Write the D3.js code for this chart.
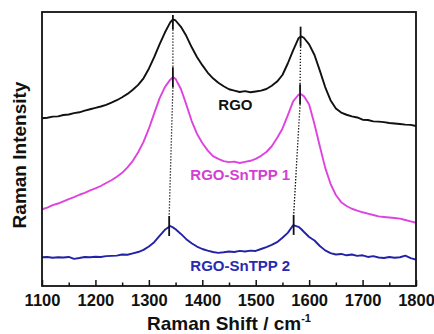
<!DOCTYPE html>
<html>
<head>
<meta charset="utf-8">
<script src="https://cdn.jsdelivr.net/npm/d3@7"></script>
<style>
  html, body { margin: 0; padding: 0; background: #fff; }
  svg { display: block; font-family: "Liberation Sans", Arial, sans-serif; font-weight: bold; }
</style>
</head>
<body>
<svg id="chart" width="434" height="334"></svg>
<script>
// -----------------------------------------------------------------------------

var wavenumbers = [
  1100, 1110, 1120, 1130, 1140, 1150, 1160, 1170, 1180, 1190,
  1200, 1210, 1220, 1230, 1240, 1250, 1260, 1270, 1280, 1290,
  1300, 1310, 1320, 1330, 1340, 1345, 1350, 1360, 1370, 1380,
  1390, 1400, 1410, 1420, 1430, 1440, 1450, 1460, 1470, 1480,
  1490, 1500, 1510, 1520, 1530, 1540, 1550, 1560, 1570, 1580,
  1585, 1590, 1600, 1610, 1620, 1630, 1640, 1650, 1660, 1670,
  1680, 1690, 1700, 1710, 1720, 1730, 1740, 1750, 1760, 1770,
  1780, 1790, 1800
];

var rgoIntensity = [
  61.2, 61.4, 61.8, 61.9, 62.4, 62.6, 63.1, 63.4, 64.0, 64.5,
  65.0, 65.5, 66.1, 66.9, 67.8, 68.9, 70.1, 71.6, 73.4, 75.8,
  79.3, 83.5, 88.2, 92.5, 96.2, 97.3, 96.9, 94.6, 91.3, 87.2,
  83.6, 80.6, 77.9, 75.8, 74.2, 72.9, 71.8, 71.3, 70.8, 71.1,
  70.7, 71.0, 71.3, 71.9, 73.1, 74.6, 77.0, 81.2, 86.0, 90.4,
  91.1, 90.6, 88.2, 84.3, 78.6, 72.6, 67.8, 64.8, 63.3, 62.5,
  61.9, 61.5, 60.7, 60.6, 60.1, 60.0, 59.8, 59.5, 59.3, 59.1,
  58.9, 58.8, 58.4
];

var rgoSnTpp1Intensity = [
  28.0, 28.6, 29.5, 30.1, 30.9, 31.7, 32.4, 33.3, 34.0, 34.9,
  35.6, 36.5, 37.6, 38.6, 39.9, 41.3, 43.3, 45.7, 48.8, 52.6,
  57.4, 63.0, 68.5, 72.6, 75.3, 76.2, 75.6, 71.9, 66.3, 60.3,
  55.6, 52.2, 49.5, 47.4, 46.4, 45.6, 45.2, 45.4, 44.9, 45.3,
  45.7, 46.4, 47.5, 48.9, 51.0, 54.0, 57.4, 62.3, 67.4, 69.8,
  70.0, 69.3, 66.2, 59.0, 51.0, 43.2, 37.3, 33.2, 30.6, 29.2,
  28.2, 27.5, 26.9, 26.4, 25.9, 25.4, 25.2, 25.0, 24.8, 24.6,
  24.1, 23.6, 23.1
];

var rgoSnTpp2Intensity = [
  10.5, 10.6, 10.3, 10.5, 10.4, 10.6, 9.9, 10.2, 10.6, 10.5,
  10.7, 10.6, 10.9, 11.0, 11.1, 11.5, 11.4, 11.9, 12.4, 13.2,
  14.4, 16.0, 18.3, 20.5, 21.9, 21.4, 20.7, 19.0, 17.1, 15.6,
  14.4, 13.5, 12.9, 12.4, 12.1, 12.3, 12.6, 12.4, 12.8, 12.6,
  12.9, 12.8, 13.5, 14.2, 15.0, 16.0, 17.6, 19.4, 22.2, 21.6,
  20.8, 19.8, 17.9, 16.6, 14.6, 13.0, 12.0, 11.5, 11.7, 11.2,
  11.5, 11.0, 11.2, 10.6, 10.9, 10.4, 10.2, 10.6, 10.3, 10.5,
  11.1, 10.2, 9.6
];

var seriesNames = ['RGO', 'RGO-SnTPP 1', 'RGO-SnTPP 2'];
var seriesColors = ['#111111', '#df43df', '#2222a6'];
var labelColors = ['#111111', '#d23fd2', '#2a2ab0'];

// D band and G band peak positions / heights, one per series
var peakDWavenumber = [1345, 1345, 1338];
var peakDIntensity = [97.3, 76.2, 21.9];
var peakGWavenumber = [1584, 1583, 1571];
var peakGIntensity = [91.0, 70.0, 22.3];

// label anchor (wavenumber, intensity) per series
var labelWavenumber = [1462, 1471, 1471];
var labelIntensity = [64.2, 38.7, 5.4];

var xTicks = [1100, 1200, 1300, 1400, 1500, 1600, 1700, 1800];
var xMinorTicks = [1150, 1250, 1350, 1450, 1550, 1650, 1750];

// -----------------------------------------------------------------------------

var margin = { top: 12, right: 18, bottom: 48, left: 42 };
var width = 434 - margin.left - margin.right;
var height = 334 - margin.top - margin.bottom;
var peakTickHalf = 10;

var svg = d3.select('#chart');
var g = svg.append('g')
  .attr('transform', 'translate(' + margin.left + ',' + margin.top + ')');

var x = d3.scaleLinear().domain([1100, 1800]).range([0, width]);
var y = d3.scaleLinear().domain([0, 100]).range([height, 0]);

// - - - - - - - - - - - - - - - - - - - - - - - - - - - - - - - - - - - - - -

var seriesValues = [rgoIntensity, rgoSnTpp1Intensity, rgoSnTpp2Intensity];
var series = seriesValues.map(function (vals, i) {
  return {
    name: seriesNames[i],
    color: seriesColors[i],
    points: wavenumbers.map(function (w, j) { return [w, vals[j]]; })
  };
});

var line = d3.line()
  .x(function (d) { return x(d[0]); })
  .y(function (d) { return y(d[1]); });

g.append('g')
  .selectAll('path')
  .data(series)
  .join('path')
  .attr('d', function (d) { return line(d.points); })
  .attr('fill', 'none')
  .attr('stroke', function (d) { return d.color; })
  .attr('stroke-width', 1.9)
  .attr('stroke-linejoin', 'round');

// - - - - - - - - - - - - - - - - - - - - - - - - - - - - - - - - - - - - - -

function peakMarks(wns, ints) {
  return wns.map(function (w, i) {
    var cy = y(ints[i]);
    return {
      x: x(w),
      top: Math.max(cy - peakTickHalf, 3),
      bottom: cy + peakTickHalf
    };
  });
}

var bands = [
  peakMarks(peakDWavenumber, peakDIntensity),
  peakMarks(peakGWavenumber, peakGIntensity)
];

var links = [];
bands.forEach(function (marks) {
  for (var i = 0; i < marks.length - 1; i++) {
    links.push({ a: marks[i], b: marks[i + 1] });
  }
});

g.append('g')
  .selectAll('line')
  .data(links)
  .join('line')
  .attr('x1', function (d) { return d.a.x; })
  .attr('y1', function (d) { return d.a.bottom; })
  .attr('x2', function (d) { return d.b.x; })
  .attr('y2', function (d) { return d.b.top; })
  .attr('stroke', '#111')
  .attr('stroke-width', 1.3)
  .attr('stroke-dasharray', '1.4,1.6');

g.append('g')
  .selectAll('line')
  .data(bands[0].concat(bands[1]))
  .join('line')
  .attr('x1', function (d) { return d.x; })
  .attr('x2', function (d) { return d.x; })
  .attr('y1', function (d) { return d.top; })
  .attr('y2', function (d) { return d.bottom; })
  .attr('stroke', '#111')
  .attr('stroke-width', 1.8);

// - - - - - - - - - - - - - - - - - - - - - - - - - - - - - - - - - - - - - -

g.append('g')
  .selectAll('text')
  .data(seriesNames)
  .join('text')
  .attr('x', function (d, i) { return x(labelWavenumber[i]); })
  .attr('y', function (d, i) { return y(labelIntensity[i]); })
  .attr('text-anchor', 'middle')
  .attr('font-size', 15)
  .attr('fill', function (d, i) { return labelColors[i]; })
  .text(function (d) { return d; });

// - - - - - - - - - - - - - - - - - - - - - - - - - - - - - - - - - - - - - -

var xAxis = g.append('g')
  .attr('transform', 'translate(0,' + height + ')')
  .call(
    d3.axisBottom(x)
      .tickValues(xTicks)
      .tickSize(-6)
      .tickPadding(8)
      .tickFormat(d3.format('d'))
  );
xAxis.select('.domain').remove();
xAxis.selectAll('.tick line').attr('stroke', '#111').attr('stroke-width', 1.5);
xAxis.selectAll('.tick text')
  .attr('font-size', 16.5)
  .attr('font-family', '"Liberation Sans", Arial, sans-serif')
  .attr('font-weight', 'bold')
  .attr('fill', '#111');

var xMinor = g.append('g')
  .attr('transform', 'translate(0,' + height + ')')
  .call(
    d3.axisBottom(x)
      .tickValues(xMinorTicks)
      .tickSize(-3.5)
      .tickFormat('')
  );
xMinor.select('.domain').remove();
xMinor.selectAll('.tick line').attr('stroke', '#111').attr('stroke-width', 1.5);

g.append('rect')
  .attr('x', 0)
  .attr('y', 0)
  .attr('width', width)
  .attr('height', height)
  .attr('fill', 'none')
  .attr('stroke', '#111')
  .attr('stroke-width', 1.8);

// - - - - - - - - - - - - - - - - - - - - - - - - - - - - - - - - - - - - - -

var xTitle = svg.append('text')
  .attr('x', margin.left + width / 2)
  .attr('y', 330)
  .attr('text-anchor', 'middle')
  .attr('font-size', 19)
  .attr('fill', '#111');
xTitle.append('tspan').text('Raman Shift / cm');
xTitle.append('tspan')
  .attr('font-size', 11)
  .attr('dy', -8)
  .text('-1');

svg.append('text')
  .attr('transform', 'translate(26,' + (margin.top + height / 2 + 6) + ') rotate(-90)')
  .attr('text-anchor', 'middle')
  .attr('font-size', 19)
  .attr('fill', '#111')
  .text('Raman Intensity');

// -----------------------------------------------------------------------------
</script>
</body>
</html>
